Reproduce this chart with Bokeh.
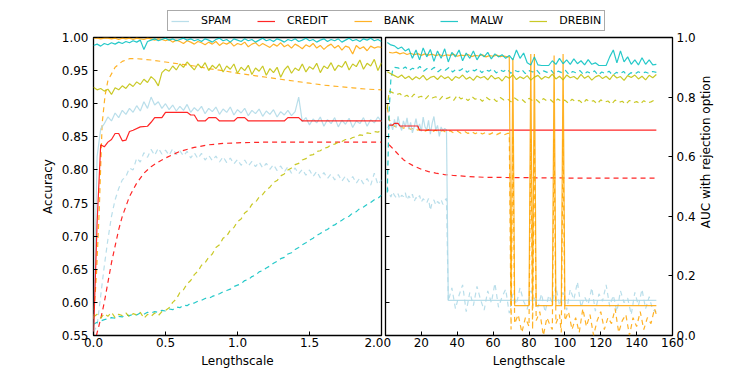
import numpy as np
from bokeh.plotting import figure
from bokeh.models import Range1d, LinearAxis, FixedTicker, PrintfTickFormatter, Legend, LegendItem, Label
from bokeh.layouts import column, row
from bokeh.embed import file_html
from bokeh.resources import INLINE

FONT = "DejaVu Sans"
SERIES = ["SPAM", "CREDIT", "BANK", "MALW", "DREBIN"]
COLORS = ["#add8e6", "#ff0000", "#ffa500", "#00bfbf", "#bfbf00"]

LEFT_X_TICKS = [0.0, 0.5, 1.0, 1.5, 2.0]
LEFT_Y_TICKS = [0.55, 0.60, 0.65, 0.70, 0.75, 0.80, 0.85, 0.90, 0.95, 1.00]
RIGHT_X_TICKS = [0, 20, 40, 60, 80, 100, 120, 140, 160]
RIGHT_Y_TICKS = [0.0, 0.2, 0.4, 0.6, 0.8, 1.0]

# ---------------- left panel (lengthscale 0 .. 2), evenly spaced samples ----------------
malw_solid_left = [0.988, 0.990, 0.987, 0.991, 0.989, 0.992, 0.990, 0.993, 0.991, 0.994, 0.992, 0.995, 0.993, 0.996,
                   0.982, 0.994, 0.996, 0.998, 0.995, 0.997, 0.999, 0.996, 0.998, 0.995, 0.997, 0.999, 0.996, 0.998,
                   0.995, 0.997, 0.994, 0.998, 0.996, 0.993, 0.997, 0.999, 0.995, 0.997, 0.993, 0.998, 0.996, 0.994,
                   0.998, 0.995, 0.997, 0.993, 0.996, 0.999, 0.995, 0.997, 0.994, 0.998, 0.996, 0.993, 0.997, 0.995,
                   0.998, 0.994, 0.996, 0.999, 0.995, 0.997, 0.993, 0.996, 0.998, 0.994, 0.997, 0.995, 0.998, 0.993,
                   0.996, 0.999, 0.995, 0.997, 0.994, 0.998, 0.996, 0.999, 0.995, 0.997, 0.994]
bank_solid_left = [0.999, 0.999, 0.998, 0.999, 0.999, 0.998, 0.999, 0.997, 0.999, 0.998, 0.999, 0.997, 0.999, 0.998,
                   0.997, 0.999, 0.998, 0.996, 0.998, 0.997, 0.995, 0.997, 0.993, 0.996, 0.994, 0.991, 0.995, 0.993,
                   0.990, 0.994, 0.992, 0.989, 0.993, 0.990, 0.994, 0.988, 0.992, 0.990, 0.993, 0.987, 0.991, 0.989,
                   0.993, 0.986, 0.990, 0.992, 0.987, 0.991, 0.988, 0.985, 0.990, 0.987, 0.992, 0.986, 0.989, 0.984,
                   0.990, 0.987, 0.983, 0.989, 0.986, 0.991, 0.984, 0.988, 0.982, 0.987, 0.990, 0.984, 0.988, 0.981,
                   0.987, 0.985, 0.975, 0.988, 0.983, 0.986, 0.980, 0.987, 0.984, 0.986, 0.985]
drebin_solid_left = [0.925, 0.921, 0.923, 0.919, 0.922, 0.914, 0.924, 0.921, 0.927, 0.923, 0.930, 0.926, 0.933, 0.929,
                     0.937, 0.932, 0.941, 0.936, 0.927, 0.947, 0.952, 0.949, 0.957, 0.951, 0.960, 0.955, 0.963, 0.957,
                     0.951, 0.960, 0.954, 0.962, 0.950, 0.958, 0.953, 0.960, 0.948, 0.957, 0.952, 0.960, 0.946, 0.955,
                     0.950, 0.958, 0.944, 0.954, 0.949, 0.957, 0.943, 0.953, 0.947, 0.955, 0.940, 0.951, 0.957, 0.946,
                     0.954, 0.950, 0.960, 0.948, 0.956, 0.952, 0.961, 0.947, 0.957, 0.953, 0.962, 0.950, 0.958, 0.955,
                     0.964, 0.951, 0.960, 0.956, 0.966, 0.952, 0.961, 0.957, 0.967, 0.950, 0.962]
spam_solid_left = [0.555, 0.820, 0.862, 0.870, 0.880, 0.874, 0.886, 0.879, 0.890, 0.884, 0.893, 0.887, 0.897, 0.889,
                   0.903, 0.893, 0.910, 0.898, 0.903, 0.893, 0.900, 0.891, 0.898, 0.889, 0.896, 0.890, 0.899, 0.887,
                   0.894, 0.889, 0.896, 0.885, 0.893, 0.888, 0.895, 0.884, 0.892, 0.887, 0.895, 0.883, 0.891, 0.886,
                   0.893, 0.882, 0.890, 0.885, 0.892, 0.881, 0.889, 0.884, 0.891, 0.880, 0.888, 0.883, 0.890, 0.882,
                   0.888, 0.910, 0.873, 0.879, 0.868, 0.877, 0.871, 0.880, 0.866, 0.876, 0.870, 0.879, 0.865, 0.875,
                   0.869, 0.878, 0.864, 0.874, 0.870, 0.879, 0.866, 0.876, 0.871, 0.880, 0.873]
spam_dash_left = [0.555, 0.565, 0.610, 0.655, 0.695, 0.730, 0.755, 0.772, 0.785, 0.790, 0.803, 0.800, 0.818, 0.812,
                  0.826, 0.819, 0.831, 0.822, 0.833, 0.824, 0.830, 0.822, 0.832, 0.823, 0.829, 0.821, 0.828, 0.818,
                  0.826, 0.817, 0.825, 0.815, 0.822, 0.814, 0.821, 0.812, 0.820, 0.811, 0.818, 0.809, 0.816, 0.807,
                  0.815, 0.806, 0.813, 0.805, 0.812, 0.803, 0.810, 0.801, 0.808, 0.799, 0.806, 0.797, 0.805, 0.795,
                  0.803, 0.794, 0.801, 0.792, 0.800, 0.790, 0.798, 0.788, 0.796, 0.787, 0.794, 0.785, 0.793, 0.783,
                  0.791, 0.782, 0.790, 0.780, 0.788, 0.779, 0.787, 0.777, 0.795, 0.778, 0.785]
drebin_dash_left = [0.578, 0.582, 0.576, 0.583, 0.579, 0.585, 0.577, 0.582, 0.580, 0.584, 0.578, 0.583, 0.581, 0.585,
                    0.576, 0.582, 0.579, 0.584, 0.580, 0.586, 0.588, 0.592, 0.600, 0.605, 0.615, 0.619, 0.628, 0.633,
                    0.642, 0.647, 0.656, 0.660, 0.668, 0.673, 0.683, 0.687, 0.697, 0.700, 0.709, 0.713, 0.722, 0.726,
                    0.735, 0.739, 0.748, 0.751, 0.759, 0.763, 0.770, 0.774, 0.781, 0.784, 0.791, 0.794, 0.800, 0.803,
                    0.808, 0.810, 0.815, 0.817, 0.822, 0.823, 0.828, 0.829, 0.833, 0.834, 0.838, 0.839, 0.842, 0.843,
                    0.846, 0.846, 0.849, 0.850, 0.853, 0.852, 0.856, 0.855, 0.858, 0.857, 0.860]
malw_dash_left = [0.567, 0.570, 0.572, 0.574, 0.575, 0.577, 0.576, 0.579, 0.578, 0.581, 0.580, 0.582, 0.581, 0.584,
                  0.582, 0.585, 0.584, 0.586, 0.585, 0.588, 0.587, 0.590, 0.589, 0.593, 0.592, 0.596, 0.595, 0.599,
                  0.599, 0.602, 0.603, 0.606, 0.606, 0.609, 0.611, 0.613, 0.616, 0.618, 0.620, 0.624, 0.626, 0.628,
                  0.633, 0.634, 0.639, 0.641, 0.646, 0.648, 0.652, 0.655, 0.659, 0.662, 0.666, 0.668, 0.673, 0.675,
                  0.680, 0.683, 0.687, 0.690, 0.694, 0.697, 0.701, 0.704, 0.708, 0.710, 0.715, 0.717, 0.721, 0.724,
                  0.728, 0.730, 0.735, 0.737, 0.742, 0.744, 0.748, 0.751, 0.755, 0.757, 0.762]

# left panel, irregularly sampled series
credit_solid_left_x = [0.0, 0.025, 0.05, 0.075, 0.1, 0.125, 0.15, 0.175, 0.2, 0.225, 0.25, 0.275, 0.325, 0.375, 0.4,
                       0.425, 0.475, 0.5, 0.65, 0.675, 0.7, 0.725, 0.775, 0.8, 0.85, 0.875, 0.975, 1.0, 1.05, 1.075,
                       1.325, 1.35, 1.425, 1.45, 2.0]
credit_solid_left_y = [0.550, 0.720, 0.838, 0.835, 0.842, 0.846, 0.855, 0.855, 0.844, 0.845, 0.858, 0.860, 0.865,
                       0.866, 0.872, 0.879, 0.879, 0.887, 0.887, 0.883, 0.883, 0.874, 0.874, 0.879, 0.879, 0.874,
                       0.874, 0.879, 0.879, 0.874, 0.874, 0.879, 0.879, 0.874, 0.874]
credit_dash_left_x = [0.02, 0.05, 0.075, 0.1, 0.125, 0.15, 0.175, 0.2, 0.25, 0.3, 0.35, 0.4, 0.45, 0.5, 0.6, 0.7, 0.8,
                      0.9, 1.0, 1.2, 1.4, 1.6, 1.8, 2.0]
credit_dash_left_y = [0.550, 0.575, 0.600, 0.630, 0.660, 0.685, 0.710, 0.730, 0.760, 0.780, 0.795, 0.805, 0.812,
                      0.818, 0.828, 0.834, 0.838, 0.840, 0.841, 0.842, 0.842, 0.842, 0.842, 0.842]
bank_dash_left_x = [0.0, 0.02, 0.04, 0.06, 0.08, 0.1, 0.15, 0.2, 0.25, 0.3, 0.4, 0.5, 0.6, 0.7, 0.8, 0.9, 1.0, 1.1,
                    1.2, 1.3, 1.4, 1.5, 1.6, 1.7, 1.8, 1.9, 2.0]
bank_dash_left_y = [0.575, 0.640, 0.740, 0.870, 0.912, 0.935, 0.955, 0.964, 0.968, 0.968, 0.966, 0.963, 0.960, 0.957,
                    0.953, 0.950, 0.946, 0.943, 0.940, 0.937, 0.934, 0.931, 0.928, 0.926, 0.924, 0.922, 0.921]

# ---------------- right panel (lengthscale 0 .. 160), AUC with rejection option ----------------
malw_solid_right = [0.983, 0.975, 0.972, 0.962, 0.968, 0.955, 0.962, 0.930, 0.958, 0.925, 0.965, 0.935, 0.960, 0.920,
                    0.955, 0.930, 0.962, 0.918, 0.950, 0.935, 0.958, 0.922, 0.948, 0.930, 0.955, 0.925, 0.945, 0.935,
                    0.950, 0.928, 0.945, 0.935, 0.942, 0.930, 0.940, 0.925, 0.958, 0.930, 0.948, 0.915, 0.908, 0.935,
                    0.908, 0.906, 0.906, 0.906, 0.922, 0.910, 0.930, 0.912, 0.925, 0.910, 0.928, 0.912, 0.922, 0.908,
                    0.926, 0.910, 0.915, 0.906, 0.906, 0.906, 0.935, 0.958, 0.915, 0.955, 0.918, 0.935, 0.910, 0.925,
                    0.908, 0.932, 0.910, 0.925, 0.908, 0.910]
drebin_solid_right = [0.885, 0.878, 0.872, 0.866, 0.874, 0.862, 0.870, 0.858, 0.868, 0.861, 0.873, 0.857, 0.866,
                      0.870, 0.859, 0.872, 0.862, 0.868, 0.855, 0.869, 0.863, 0.874, 0.860, 0.867, 0.856, 0.871,
                      0.864, 0.869, 0.858, 0.873, 0.861, 0.866, 0.854, 0.870, 0.863, 0.875, 0.859, 0.868, 0.862,
                      0.872, 0.857, 0.867, 0.873, 0.860, 0.869, 0.864, 0.877, 0.861, 0.870, 0.858, 0.874, 0.865,
                      0.869, 0.860, 0.876, 0.863, 0.871, 0.857, 0.868, 0.873, 0.862, 0.870, 0.859, 0.875, 0.864,
                      0.869, 0.856, 0.872, 0.866, 0.874, 0.861, 0.870, 0.858, 0.873, 0.865, 0.876]
malw_dash_right_head_x = [1, 2, 3, 4, 5]
malw_dash_right_head = [0.480, 0.750, 0.860, 0.890, 0.900]
malw_dash_right_tail = [0.898, 0.893, 0.901, 0.889, 0.897, 0.892, 0.903, 0.887, 0.896, 0.891, 0.900, 0.885, 0.895,
                        0.890, 0.899, 0.884, 0.894, 0.889, 0.897, 0.883, 0.893, 0.888, 0.896, 0.882, 0.892, 0.887,
                        0.895, 0.881, 0.891, 0.886, 0.894, 0.880, 0.890, 0.885, 0.893, 0.879, 0.889, 0.884, 0.892,
                        0.878, 0.888, 0.883, 0.891, 0.877, 0.887, 0.882, 0.890, 0.876, 0.886, 0.881, 0.889, 0.875,
                        0.885, 0.880, 0.888, 0.874, 0.884, 0.879, 0.887, 0.873, 0.883, 0.878, 0.886, 0.872, 0.882,
                        0.877, 0.885, 0.880, 0.884, 0.879, 0.886, 0.883]
drebin_dash_right_head_x = [1, 2]
drebin_dash_right_head = [0.760, 0.820]
drebin_dash_right_tail = [0.815, 0.808, 0.812, 0.800, 0.806, 0.796, 0.810, 0.799, 0.803, 0.792, 0.805, 0.797, 0.801,
                          0.790, 0.804, 0.795, 0.800, 0.789, 0.806, 0.794, 0.799, 0.788, 0.802, 0.793, 0.797, 0.786,
                          0.800, 0.791, 0.796, 0.785, 0.799, 0.790, 0.794, 0.784, 0.797, 0.789, 0.793, 0.782, 0.796,
                          0.788, 0.792, 0.781, 0.795, 0.787, 0.791, 0.780, 0.794, 0.786, 0.790, 0.779, 0.793, 0.785,
                          0.789, 0.778, 0.792, 0.784, 0.788, 0.777, 0.791, 0.783, 0.787, 0.776, 0.790, 0.782, 0.786,
                          0.776, 0.789, 0.781, 0.785, 0.777, 0.788, 0.780, 0.784, 0.790]
spam_solid_right_head = [0.700, 0.695, 0.712, 0.690, 0.725, 0.698, 0.735, 0.705, 0.688, 0.720, 0.700, 0.730, 0.692,
                         0.715, 0.680, 0.700, 0.728, 0.694, 0.710, 0.685, 0.733, 0.700, 0.690, 0.722, 0.676, 0.712,
                         0.735, 0.690, 0.705, 0.668, 0.700, 0.687, 0.695, 0.690]
spam_solid_right_tail_x = [35, 151]
spam_solid_right_tail = [0.118, 0.118]
spam_dash_right_head = [0.500, 0.478, 0.465, 0.482, 0.470, 0.462, 0.476, 0.458, 0.471, 0.466, 0.480, 0.455, 0.468,
                        0.460, 0.474, 0.450, 0.463, 0.457, 0.470, 0.448, 0.459, 0.452, 0.445, 0.460, 0.420, 0.447,
                        0.455, 0.438, 0.450, 0.443, 0.456, 0.440, 0.452, 0.460]
spam_dash_right_tail = [0.115, 0.160, 0.090, 0.135, 0.170, 0.080, 0.145, 0.100, 0.165, 0.120, 0.085, 0.150, 0.110,
                        0.175, 0.095, 0.130, 0.155, 0.075, 0.140, 0.105, 0.160, 0.115, 0.088, 0.150, 0.125, 0.095,
                        0.140, 0.078, 0.135, 0.110, 0.165, 0.100, 0.145, 0.085, 0.155, 0.120, 0.180, 0.095, 0.130,
                        0.105, 0.160, 0.082, 0.140, 0.115, 0.170, 0.098, 0.135, 0.080, 0.150, 0.110, 0.125, 0.070,
                        0.145, 0.100, 0.155, 0.090, 0.130, 0.085, 0.080]
credit_solid_right_x = [2, 4, 5, 7, 8, 18, 19, 151]
credit_solid_right_y = [0.706, 0.706, 0.712, 0.712, 0.703, 0.703, 0.689, 0.689]
credit_dash_right_x = [2, 4, 6, 8, 10, 13, 16, 20, 24, 28, 33, 38, 45, 55, 70, 90, 110, 130, 151]
credit_dash_right_y = [0.640, 0.628, 0.615, 0.602, 0.590, 0.578, 0.568, 0.558, 0.550, 0.545, 0.540, 0.537, 0.534,
                       0.531, 0.530, 0.529, 0.528, 0.528, 0.528]
bank_solid_right_head = [0.950, 0.948, 0.951, 0.945, 0.949, 0.943, 0.947, 0.942, 0.946, 0.940, 0.945, 0.941, 0.944,
                         0.939, 0.943, 0.938, 0.942, 0.940, 0.944, 0.937, 0.941, 0.939, 0.943, 0.936, 0.940, 0.938,
                         0.942, 0.935, 0.939, 0.937, 0.941, 0.936, 0.938, 0.935]
bank_solid_right_tail_x = [69, 70, 71, 72, 80, 81, 82, 83, 84, 93, 94, 95, 98, 99, 100, 151]
bank_solid_right_tail = [0.935, 0.10, 0.93, 0.10, 0.10, 0.945, 0.10, 0.945, 0.10, 0.10, 0.94, 0.10, 0.10, 0.945,
                         0.10, 0.10]
bank_dash_right_head_x = [1, 2]
bank_dash_right_head = [0.765, 0.725]
bank_dash_right_mid = [0.705, 0.700, 0.702, 0.696, 0.699, 0.692, 0.696, 0.689, 0.693, 0.686, 0.691, 0.684, 0.689,
                       0.683, 0.688, 0.681, 0.687, 0.680, 0.686, 0.679, 0.685, 0.678, 0.684, 0.677, 0.683, 0.676,
                       0.682, 0.675, 0.681, 0.674, 0.680, 0.673, 0.678]
bank_dash_right_tail_x = [69, 70, 71, 72, 74, 76, 78, 80, 81, 82, 83, 84, 86, 88, 90, 92, 93, 94, 95, 97, 98, 99, 100,
                          102, 104, 106, 108, 110, 112, 114, 116, 118, 120, 122, 124, 126, 128, 130, 132, 134, 136,
                          138, 140, 142, 144, 146, 148, 150, 151]
bank_dash_right_tail = [0.678, 0.02, 0.67, 0.04, 0.07, 0.01, 0.06, 0.03, 0.66, 0.02, 0.66, 0.05, 0.08, 0.00, 0.06,
                        0.03, 0.02, 0.66, 0.04, 0.07, 0.01, 0.66, 0.05, 0.08, 0.02, 0.06, 0.01, 0.09, 0.03, 0.07,
                        0.00, 0.05, 0.08, 0.02, 0.06, 0.04, 0.09, 0.01, 0.05, 0.07, 0.00, 0.06, 0.03, 0.08, 0.02,
                        0.06, 0.04, 0.09, 0.07]

RIGHT_Y_TITLE = "AUC with rejection option"


def even(lo, hi, vals):
    return list(np.linspace(lo, hi, len(vals)))


def draw(p, x, y, color, dashed):
    n = min(len(x), len(y))
    p.line(list(x[:n]), list(y[:n]), line_color=color, line_width=1.2, line_alpha=0.85,
           line_dash="5 4" if dashed else "solid")


def style_axis(ax, ticks, fmt, label=None, standoff=4):
    ax.ticker = FixedTicker(ticks=ticks)
    ax.formatter = PrintfTickFormatter(format=fmt)
    ax.major_label_text_font = FONT
    ax.major_label_text_font_size = "12px"
    ax.major_label_text_color = "black"
    ax.major_label_standoff = standoff
    ax.major_tick_in = 4
    ax.major_tick_out = 0
    ax.major_tick_line_color = "black"
    ax.minor_tick_line_color = None
    ax.axis_line_color = None
    if label is not None:
        ax.axis_label = label
        ax.axis_label_text_font = FONT
        ax.axis_label_text_font_size = "12px"
        ax.axis_label_text_font_style = "normal"
        ax.axis_label_text_color = "black"
        ax.axis_label_standoff = 4


def base(p):
    p.grid.visible = False
    p.outline_line_color = "black"
    p.outline_line_width = 1.3
    p.outline_line_alpha = 1.0
    p.background_fill_color = "white"
    p.border_fill_color = "white"


col = dict(zip(SERIES, COLORS))
FIG_H = 338
BORDER_TOP = 5
BORDER_BOTTOM = 34

# ---------------- left figure ----------------
left = figure(width=383, height=FIG_H, x_range=Range1d(0, 2.0), y_range=Range1d(0.55, 1.0),
              output_backend="svg", toolbar_location=None,
              min_border_left=93, min_border_right=2, min_border_top=BORDER_TOP, min_border_bottom=BORDER_BOTTOM)
base(left)
style_axis(left.xaxis[0], LEFT_X_TICKS, "%.1f", "Lengthscale", standoff=2)
style_axis(left.yaxis[0], LEFT_Y_TICKS, "%.2f", "Accuracy", standoff=5)

draw(left, even(0, 2, spam_dash_left), spam_dash_left, col["SPAM"], True)
draw(left, credit_dash_left_x, credit_dash_left_y, col["CREDIT"], True)
draw(left, bank_dash_left_x, bank_dash_left_y, col["BANK"], True)
draw(left, even(0, 2, malw_dash_left), malw_dash_left, col["MALW"], True)
draw(left, even(0, 2, drebin_dash_left), drebin_dash_left, col["DREBIN"], True)
draw(left, even(0, 2, spam_solid_left), spam_solid_left, col["SPAM"], False)
draw(left, credit_solid_left_x, credit_solid_left_y, col["CREDIT"], False)
draw(left, even(0, 2, bank_solid_left), bank_solid_left, col["BANK"], False)
draw(left, even(0, 2, malw_solid_left), malw_solid_left, col["MALW"], False)
draw(left, even(0, 2, drebin_solid_left), drebin_solid_left, col["DREBIN"], False)

# ---------------- right figure ----------------
right = figure(width=315, height=FIG_H, x_range=Range1d(0, 160), y_range=Range1d(0, 1.0),
               y_axis_location="right", output_backend="svg", toolbar_location=None,
               min_border_left=2, min_border_right=26, min_border_top=BORDER_TOP, min_border_bottom=BORDER_BOTTOM)
base(right)
main_y = right.yaxis[0]
main_x = right.xaxis[0]
right.extra_y_ranges = {"acc": Range1d(0.55, 1.0)}
acc_axis = LinearAxis(y_range_name="acc")
right.add_layout(acc_axis, "left")
style_axis(acc_axis, LEFT_Y_TICKS, "%.2f", standoff=0)
acc_axis.major_label_text_font_size = "1px"
acc_axis.major_label_text_color = None
style_axis(main_x, RIGHT_X_TICKS, "%d", "Lengthscale", standoff=2)
style_axis(main_y, RIGHT_Y_TICKS, "%.1f", None, standoff=4)

spam_head_x = even(1, 34, spam_solid_right_head)
draw(right, list(even(1, 34, spam_dash_right_head)) + list(even(35, 151, spam_dash_right_tail)),
     spam_dash_right_head + spam_dash_right_tail, col["SPAM"], True)
draw(right, credit_dash_right_x, credit_dash_right_y, col["CREDIT"], True)
draw(right, bank_dash_right_head_x + even(4, 68, bank_dash_right_mid) + bank_dash_right_tail_x,
     bank_dash_right_head + bank_dash_right_mid + bank_dash_right_tail, col["BANK"], True)
draw(right, malw_dash_right_head_x + even(7, 151, malw_dash_right_tail),
     malw_dash_right_head + malw_dash_right_tail, col["MALW"], True)
draw(right, drebin_dash_right_head_x + even(4, 150, drebin_dash_right_tail),
     drebin_dash_right_head + drebin_dash_right_tail, col["DREBIN"], True)
draw(right, spam_head_x + spam_solid_right_tail_x, spam_solid_right_head + spam_solid_right_tail,
     col["SPAM"], False)
draw(right, credit_solid_right_x, credit_solid_right_y, col["CREDIT"], False)
draw(right, even(2, 68, bank_solid_right_head) + bank_solid_right_tail_x,
     bank_solid_right_head + bank_solid_right_tail, col["BANK"], False)
draw(right, even(1, 151, malw_solid_right), malw_solid_right, col["MALW"], False)
draw(right, even(1, 151, drebin_solid_right), drebin_solid_right, col["DREBIN"], False)

# ---------------- strip holding the right-hand axis title (reads bottom-to-top) ----------------
title_fig = figure(width=47, height=FIG_H, x_axis_type=None, y_axis_type=None, output_backend="svg",
                   x_range=Range1d(0, 1), y_range=Range1d(0, 1),
                   toolbar_location=None, min_border=0, outline_line_color=None)
title_fig.grid.visible = False
title_fig.background_fill_color = "white"
title_fig.border_fill_color = "white"
title_fig.add_layout(Label(x=7, y=BORDER_BOTTOM + (FIG_H - BORDER_TOP - BORDER_BOTTOM) / 2,
                           x_units="screen", y_units="screen", text=RIGHT_Y_TITLE,
                           angle=np.pi / 2, text_align="center", text_baseline="middle",
                           text_font=FONT, text_font_size="12px", text_color="black"))

# ---------------- legend strip ----------------
leg_fig = figure(width=745, height=32, x_axis_type=None, y_axis_type=None, output_backend="svg",
                 x_range=Range1d(0, 1), y_range=Range1d(0, 1),
                 toolbar_location=None, min_border=0, outline_line_color=None)
leg_fig.background_fill_color = "white"
leg_fig.border_fill_color = "white"
items = []
for name in SERIES:
    # proxy lines placed outside the visible range: only their legend samples are seen
    r = leg_fig.line(x=[-10, -9], y=[-10, -9], line_color=col[name], line_width=1.2, line_alpha=0.85)
    items.append(LegendItem(label=name, renderers=[r]))
legend = Legend(items=items, orientation="horizontal", location=(167, 1),
                glyph_width=18, glyph_height=10, label_standoff=12, spacing=26, padding=3,
                label_height=10, margin=0,
                label_text_font=FONT, label_text_font_size="11px", label_text_color="black",
                border_line_color="#555555", border_line_width=1.2, background_fill_alpha=1.0)
leg_fig.add_layout(legend)

layout = column(leg_fig, row(left, right, title_fig))
open("out.html", "w").write(file_html(layout, INLINE))
